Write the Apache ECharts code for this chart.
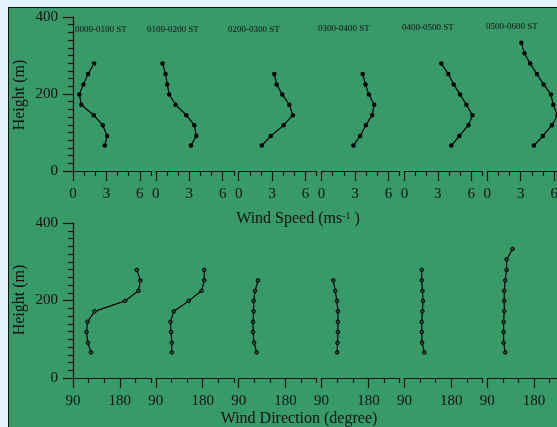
<!DOCTYPE html>
<html><head><meta charset="utf-8">
<script src="https://cdn.jsdelivr.net/npm/echarts@6/dist/echarts.min.js"></script>
<style>
html,body{margin:0;padding:0;width:557px;height:427px;overflow:hidden;background:#e3f2fc;}
#frame{position:absolute;left:8px;top:7px;width:620px;height:500px;background:#389a69;border-left:1px solid #111;border-top:1px solid #111;box-sizing:border-box;}
#chart{position:absolute;left:0;top:0;width:557px;height:427px;}
</style></head><body><div id="frame"></div><div id="chart"></div>
<script>
// ---- data ----
const panelTitles = ['0000-0100 ST', '0100-0200 ST', '0200-0300 ST', '0300-0400 ST', '0400-0500 ST', '0500-0600 ST'];
const heights = [66, 91, 119, 145, 172, 199, 225, 252, 279, 306, 333];

const speed0000 = [2.85, 3.06, 2.67, 1.86, 0.75, 0.57, 0.93, 1.35, 1.89];
const speed0100 = [3.15, 3.63, 3.45, 2.73, 1.77, 1.20, 1.02, 0.87, 0.60];
const speed0200 = [2.07, 2.88, 4.03, 4.86, 4.54, 3.91, 3.40, 3.19];
const speed0300 = [2.86, 3.46, 3.97, 4.54, 4.72, 4.24, 3.94, 3.69];
const speed0400 = [4.21, 4.93, 5.74, 6.10, 5.56, 4.99, 4.42, 3.94, 3.31];
const speed0500 = [4.18, 4.99, 5.80, 6.30, 5.92, 5.71, 5.05, 4.45, 3.85, 3.33, 3.06];

const dir0000 = [124.5, 118.7, 116.0, 118.0, 131.5, 190.2, 215.8, 219.6, 212.6];
const dir0100 = [120.6, 120.6, 119.3, 118.0, 124.5, 153.2, 178.0, 183.1, 183.1];
const dir0200 = [124.5, 119.5, 117.6, 117.6, 118.7, 118.7, 121.4, 127.1];
const dir0300 = [120.0, 120.6, 121.4, 121.4, 121.4, 119.5, 116.2, 112.4];
const dir0400 = [128.3, 123.9, 123.3, 123.3, 124.5, 125.8, 124.5, 123.3, 123.3];
const dir0500 = [124.5, 121.4, 121.4, 121.4, 122.6, 122.6, 122.6, 124.5, 127.1, 127.1, 138.6];

const speedTicks = [0, 3, 6];
const speedMinorTicks = [1, 2, 4, 5, 7];
const dirTicks = [90, 180];
const dirMinorTicks = [120, 150, 210, 240];
const heightTicks = [0, 200, 400];
const heightMinorTicks = [20, 40, 60, 80, 100, 120, 140, 160, 180, 220, 240, 260, 280, 300, 320, 340, 360, 380];

const speedSeries = [speed0000, speed0100, speed0200, speed0300, speed0400, speed0500];
const dirSeries = [dir0000, dir0100, dir0200, dir0300, dir0400, dir0500];

// ---- layout / style ----
const FONT = 'Liberation Serif';
const INK = '#111';
const left0 = 73, step = 82.86, pw = 78;
const rows = [{top: 17, height: 154, min: 0, max: 7, major: speedTicks, minor: speedMinorTicks, data: speedSeries, sym: 'dot'},
              {top: 223, height: 155, min: 90, max: 240, major: dirTicks, minor: dirMinorTicks, data: dirSeries, sym: 'ring'}];

const grid = [], xAxis = [], yAxis = [], series = [];
rows.forEach((row, r) => {
  for (let i = 0; i < 6; i++) {
    const g = grid.length;
    grid.push({left: left0 + i * step, width: pw, top: row.top, height: row.height, containLabel: false, outerBoundsMode: 'none'});
    const xMajor = xAxis.length;
    xAxis.push({type: 'value', gridIndex: g, min: row.min, max: row.max, position: 'bottom',
      axisLine: {show: true, onZero: false, lineStyle: {color: INK, width: 1.2}},
      axisTick: {show: true, customValues: row.major, length: 10, lineStyle: {color: INK, width: 1.2}},
      axisLabel: {show: true, customValues: row.major, margin: 16, fontSize: 15, fontFamily: FONT, color: INK},
      splitLine: {show: false}});
    xAxis.push({type: 'value', gridIndex: g, min: row.min, max: row.max, position: 'bottom',
      axisLine: {show: false, onZero: false},
      axisTick: {show: true, customValues: row.minor, length: 5, lineStyle: {color: INK, width: 1.2}},
      axisLabel: {show: false}, splitLine: {show: false}});
    const yMajor = yAxis.length;
    const showY = i === 0;
    yAxis.push({type: 'value', gridIndex: g, min: 0, max: 400, position: 'left', show: showY,
      axisLine: {show: showY, onZero: false, lineStyle: {color: INK, width: 1.2}},
      axisTick: {show: showY, customValues: heightTicks, length: 10, lineStyle: {color: INK, width: 1.2}},
      axisLabel: {show: showY, customValues: heightTicks, margin: 15, fontSize: 15, fontFamily: FONT, color: INK},
      splitLine: {show: false}});
    yAxis.push({type: 'value', gridIndex: g, min: 0, max: 400, position: 'left', show: showY,
      axisLine: {show: false, onZero: false},
      axisTick: {show: showY, customValues: heightMinorTicks, length: 5, lineStyle: {color: INK, width: 1.2}},
      axisLabel: {show: false}, splitLine: {show: false}});
    const vals = row.data[i];
    series.push({type: 'line', xAxisIndex: xMajor, yAxisIndex: yMajor,
      data: vals.map((v, k) => [v, heights[k]]),
      symbol: 'circle', symbolSize: row.sym === 'ring' ? 3.6 : 4.5,
      lineStyle: {color: '#000', width: 1.2},
      itemStyle: row.sym === 'ring' ? {color: '#2c4d3a', borderColor: '#000', borderWidth: 1} : {color: '#000'},
      clip: false, silent: true});
  }
});

const titleX = [75, 147, 228, 318, 402, 486];
const titleY = [30, 30, 30, 29, 27.7, 26.5];
const graphic = panelTitles.map((t, i) => ({type: 'text', x: titleX[i], y: titleY[i],
  style: {text: t, font: '9px "Liberation Serif"', fill: INK, textAlign: 'left', textVerticalAlign: 'middle'}}));
graphic.push({type: 'text', x: 20, y: 95, rotation: Math.PI / 2,
  style: {text: 'Height (m)', font: '16px "Liberation Serif"', fill: INK, textAlign: 'center', textVerticalAlign: 'middle'}});
graphic.push({type: 'text', x: 20, y: 300, rotation: Math.PI / 2,
  style: {text: 'Height (m)', font: '16px "Liberation Serif"', fill: INK, textAlign: 'center', textVerticalAlign: 'middle'}});
graphic.push({type: 'text', x: 298, y: 219,
  style: {text: '{a|Wind Speed (ms}{b|-1}{a| )}', fill: INK, textAlign: 'center', textVerticalAlign: 'middle',
    rich: {a: {fontSize: 16, fontFamily: FONT, color: INK}, b: {fontSize: 10, fontFamily: FONT, color: INK, verticalAlign: 'top', padding: [0, 0, 6, 0]}}}});
graphic.push({type: 'text', x: 299, y: 419,
  style: {text: 'Wind Direction (degree)', font: '16px "Liberation Serif"', fill: INK, textAlign: 'center', textVerticalAlign: 'middle'}});

const chart = echarts.init(document.getElementById('chart'), null, {renderer: 'canvas'});
chart.setOption({animation: false, backgroundColor: 'transparent', grid, xAxis, yAxis, series, graphic});
</script></body></html>
